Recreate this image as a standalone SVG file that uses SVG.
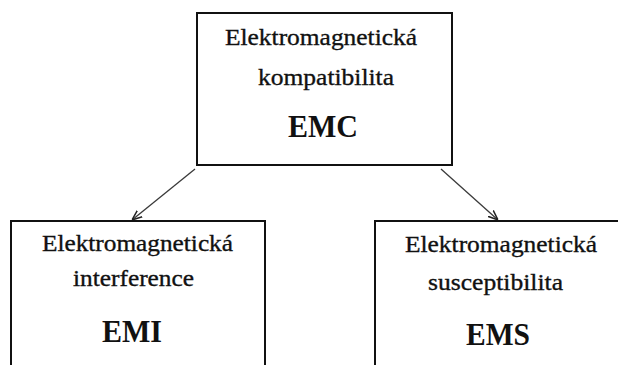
<svg xmlns="http://www.w3.org/2000/svg" width="618" height="365" viewBox="0 0 618 365">
<defs>
<style>
.box{fill:#fff;stroke:#111;stroke-width:2}
.t{font-size:24px;fill:#111;stroke:#111;stroke-width:0.35;text-anchor:middle}
.b{font-size:31px;font-weight:bold;fill:#111;text-anchor:middle}
.conn{stroke:#3a3a3a;stroke-width:1.3;fill:none}
</style>
<marker id="arr" viewBox="0 0 10 10" refX="10" refY="5" markerWidth="10" markerHeight="10" markerUnits="userSpaceOnUse" orient="auto">
<polyline points="0,1 10,5 0,9" fill="none" stroke="#222" stroke-width="1.5"/>
</marker>
</defs>
<rect width="618" height="365" fill="#fff"/>
<g id="connectors">
<line class="conn" x1="195" y1="169" x2="132" y2="220" marker-end="url(#arr)"/>
<line class="conn" x1="441" y1="169" x2="498" y2="220" marker-end="url(#arr)"/>
</g>
<g id="emc" font-family="'Liberation Serif', 'Times New Roman', Times, serif">
<rect class="box" x="197" y="13" width="255" height="152"/>
<text class="t" x="321" y="45" textLength="192" lengthAdjust="spacingAndGlyphs">Elektromagnetická</text>
<text class="t" x="326" y="85" textLength="136" lengthAdjust="spacingAndGlyphs">kompatibilita</text>
<text class="b" x="323" y="137" textLength="70" lengthAdjust="spacingAndGlyphs">EMC</text>
</g>
<g id="emi" font-family="'Liberation Serif', 'Times New Roman', Times, serif">
<rect class="box" x="11" y="221" width="254" height="160"/>
<text class="t" x="137.5" y="251" textLength="191" lengthAdjust="spacingAndGlyphs">Elektromagnetická</text>
<text class="t" x="133.5" y="286" textLength="121" lengthAdjust="spacingAndGlyphs">interference</text>
<text class="b" x="132" y="342" textLength="60" lengthAdjust="spacingAndGlyphs">EMI</text>
</g>
<g id="ems" font-family="'Liberation Serif', 'Times New Roman', Times, serif">
<rect class="box" x="375" y="221" width="260" height="160"/>
<text class="t" x="501" y="252" textLength="192" lengthAdjust="spacingAndGlyphs">Elektromagnetická</text>
<text class="t" x="495.5" y="290" textLength="135" lengthAdjust="spacingAndGlyphs">susceptibilita</text>
<text class="b" x="498" y="345" textLength="64" lengthAdjust="spacingAndGlyphs">EMS</text>
</g>
</svg>
